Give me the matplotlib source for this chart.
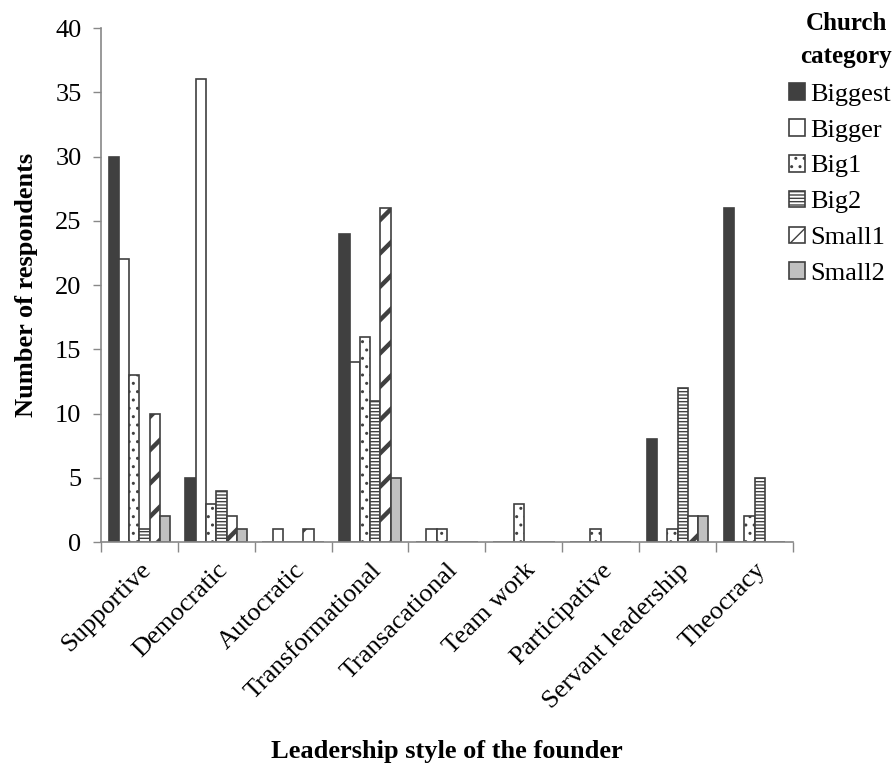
import numpy as np
import matplotlib
matplotlib.use("Agg")
import matplotlib.pyplot as plt
from matplotlib.ticker import FixedLocator

plt.rcParams['font.family'] = ['Liberation Serif', 'DejaVu Serif']

styles = ["Supportive", "Democratic", "Autocratic", "Transformational",
          "Transacational", "Team work", "Participative",
          "Servant leadership", "Theocracy"]
series_names = ["Biggest", "Bigger", "Big1", "Big2", "Small1", "Small2"]

biggest = [30, 5, 0, 24, 0, 0, 0, 8, 26]
bigger = [22, 36, 1, 14, 1, 0, 0, 0, 0]
big1 = [13, 3, 0, 16, 1, 3, 1, 1, 2]
big2 = [1, 4, 0, 11, 0, 0, 0, 12, 5]
small1 = [10, 2, 1, 26, 0, 0, 0, 2, 0]
small2 = [2, 1, 0, 5, 0, 0, 0, 2, 0]

series = [biggest, bigger, big1, big2, small1, small2]
faces = ["#404040", "white", "white", "white", "white", "#c0c0c0"]
hatches = [None, None, "..", "-----", "/", None]
hatch_lw = [1.0, 1.0, 1.0, 1.0, 3.2, 1.0]
edge = "#404040"

fig = plt.figure(figsize=(8.93, 7.69), dpi=100)
ax = fig.add_axes([0.113, 0.295, 0.775, 0.6685])

x = np.arange(len(styles))
w = 1 / 7.5
handles = []
for i, (vals, name) in enumerate(zip(series, series_names)):
    plt.rcParams['hatch.linewidth'] = hatch_lw[i]
    bars = ax.bar(x + (i - 2.5) * w, vals, width=w, color=faces[i],
                  edgecolor=edge, linewidth=1.2, hatch=hatches[i], label=name)
    for b in bars:
        if hasattr(b, "set_hatch_linewidth"):
            b.set_hatch_linewidth(hatch_lw[i])
    handles.append(bars)

ax.set_xlim(-0.5, len(styles) - 0.5)
ax.set_ylim(0, 40)
ax.set_yticks(np.arange(0, 41, 5))
ax.tick_params(axis='y', labelsize=19, length=6, width=1, color="#888888",
               pad=8, direction='out')

ax.set_xticks(x)
ax.set_xticklabels(styles, rotation=45, ha='right', va='top',
                   rotation_mode='anchor', fontsize=19)
ax.tick_params(axis='x', which='major', length=0, pad=12)
ax.xaxis.set_minor_locator(FixedLocator(np.arange(-0.5, len(styles), 1.0)))
ax.tick_params(axis='x', which='minor', length=7, width=1, color="#888888",
               direction='out')

for s in ['top', 'right']:
    ax.spines[s].set_visible(False)
for s in ['left', 'bottom']:
    ax.spines[s].set_color("#888888")
    ax.spines[s].set_linewidth(1.2)

ax.set_ylabel("Number of respondents", fontsize=19, fontweight='bold',
              labelpad=12)
fig.text(0.5, 0.008, "Leadership style of the founder", fontsize=19,
         fontweight='bold', ha='center', va='bottom')

# legend title drawn as two centred lines above the entries
fig.text(846 / 893, 1 - 24 / 769, "Church", fontsize=18, fontweight='bold',
         ha='center', va='center')
fig.text(846 / 893, 1 - 56 / 769, "category", fontsize=18, fontweight='bold',
         ha='center', va='center')

leg = ax.legend(handles=handles, labels=series_names, loc='upper left',
                bbox_to_anchor=(789 / 893, 1 - 83 / 769),
                bbox_transform=fig.transFigure,
                frameon=False, fontsize=19, handlelength=0.6,
                handleheight=0.6, handletextpad=0.2, labelspacing=0.5,
                borderaxespad=0, borderpad=0.0)

fig.savefig("out.png", dpi=100)
